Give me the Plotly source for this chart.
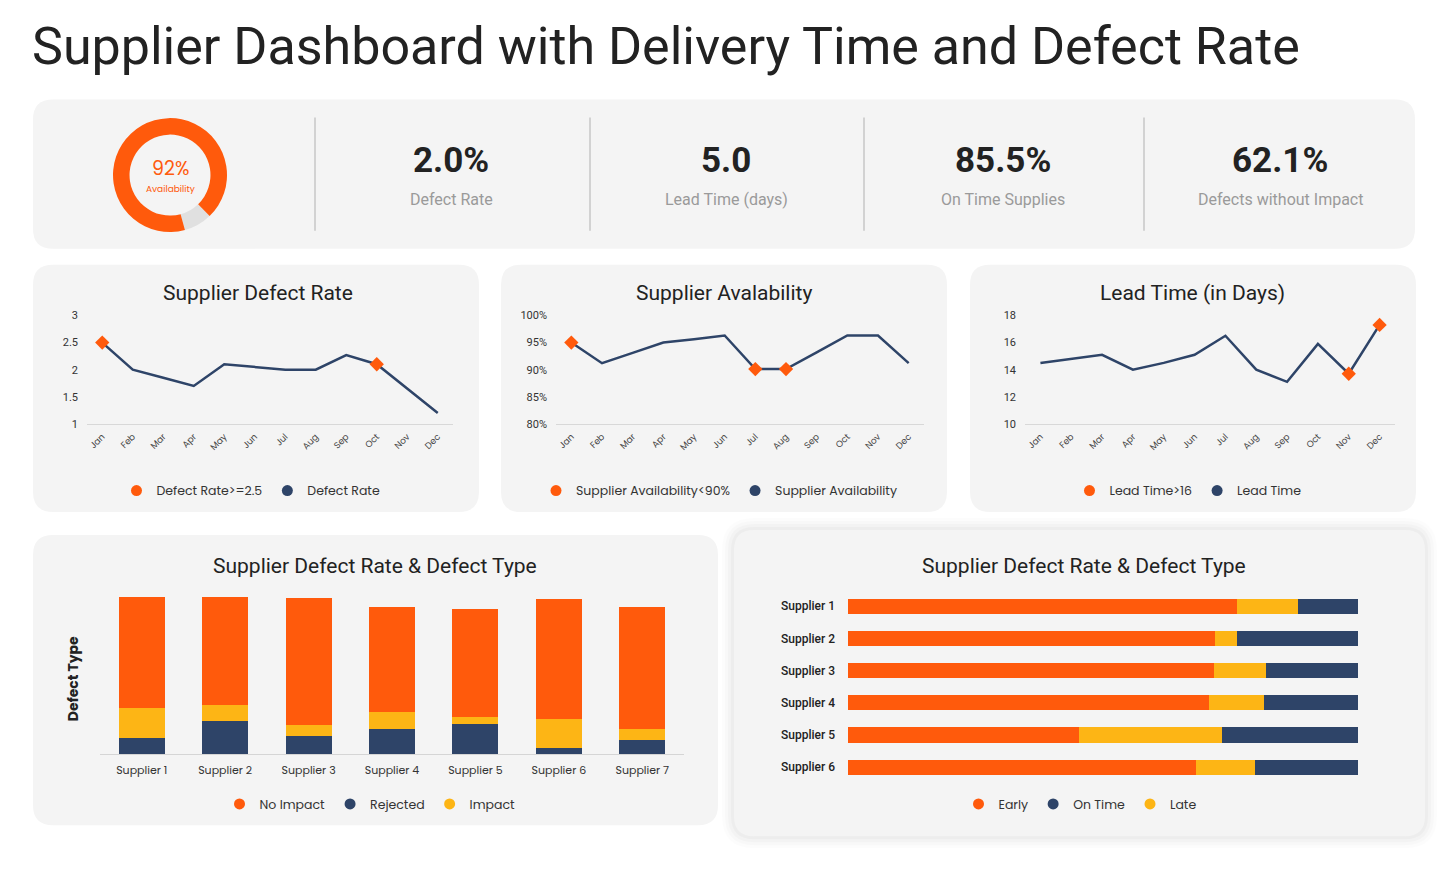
import plotly.graph_objects as go

# ---------------- data ----------------
months = ["Jan", "Feb", "Mar", "Apr", "May", "Jun", "Jul", "Aug", "Sep", "Oct", "Nov", "Dec"]

defect_rate = [2.5, 2.0, 1.85, 1.7, 2.1, 2.05, 2.0, 2.0, 2.27, 2.1, 1.65, 1.2]
defect_flag_months = ["Jan", "Oct"]
defect_ticks = [1, 1.5, 2, 2.5, 3]
defect_tick_text = ["1", "1.5", "2", "2.5", "3"]

availability = [95, 91.2, 93.1, 95, 95.6, 96.3, 90.1, 90.1, 93.2, 96.3, 96.3, 91.2]
avail_flag_months = ["Jan", "Jul", "Aug"]
avail_ticks = [80, 85, 90, 95, 100]
avail_tick_text = ["80%", "85%", "90%", "95%", "100%"]

lead_time = [14.5, 14.8, 15.1, 14.0, 14.5, 15.1, 16.5, 14.0, 13.1, 15.9, 13.7, 17.3]
lead_flag_months = ["Nov", "Dec"]
lead_ticks = [10, 12, 14, 16, 18]
lead_tick_text = ["10", "12", "14", "16", "18"]

suppliers7 = ["Supplier 1", "Supplier 2", "Supplier 3", "Supplier 4", "Supplier 5", "Supplier 6", "Supplier 7"]
rejected = [10, 20.4, 11, 15, 18.4, 3.6, 8.4]
impact = [18, 9.6, 6.4, 10.6, 4.2, 18, 6.6]
no_impact = [67, 65, 77.2, 63.4, 65, 72.4, 74]

suppliers6 = ["Supplier 1", "Supplier 2", "Supplier 3", "Supplier 4", "Supplier 5", "Supplier 6"]
early = [76.3, 71.9, 71.7, 70.8, 45.2, 68.2]
late = [12.0, 4.4, 10.3, 10.7, 28.1, 11.6]
on_time = [11.7, 23.7, 18.0, 18.5, 26.7, 20.2]

availability_kpi = 92
kpi_values = ["2.0%", "5.0", "85.5%", "62.1%"]
kpi_labels = ["Defect Rate", "Lead Time (days)", "On Time Supplies", "Defects without Impact"]

# ---------------- style ----------------
W, H = 1451, 874
Y_OFF, Y_SCALE = 6.6, 0.984   # vertical calibration of the capture
ORANGE = "#FF5A0C"
NAVY = "#2E4468"
YELLOW = "#FDB515"
GREYRING = "#E0E0E0"
PANEL = "#F4F4F4"
DARK = "#222222"
ROBOTO = "Roboto, Arial, sans-serif"
ROUND = "Poppins, 'Open Sans', Arial, sans-serif"


def px(x):
    return x / W


def py(y):
    return 1 - ((y - Y_OFF) / Y_SCALE) / H


def xdom(a, b):
    return [a / W, b / W]


def ydom(top, bottom):
    return [py(bottom), py(top)]


def rrect(x0, y0, x1, y1, r, fill):
    p = (f"M{px(x0 + r)},{py(y0)} L{px(x1 - r)},{py(y0)} Q{px(x1)},{py(y0)} {px(x1)},{py(y0 + r)} "
         f"L{px(x1)},{py(y1 - r)} Q{px(x1)},{py(y1)} {px(x1 - r)},{py(y1)} "
         f"L{px(x0 + r)},{py(y1)} Q{px(x0)},{py(y1)} {px(x0)},{py(y1 - r)} "
         f"L{px(x0)},{py(y0 + r)} Q{px(x0)},{py(y0)} {px(x0 + r)},{py(y0)} Z")
    return dict(type="path", xref="paper", yref="paper", path=p, fillcolor=fill,
                line=dict(width=0), layer="below")


def note(text, x, y, size, color, family=ROBOTO, xanchor="center", **kw):
    return dict(text=text, x=px(x), y=py(y), xref="paper", yref="paper", xanchor=xanchor,
                yanchor="middle", showarrow=False, font=dict(family=family, size=size, color=color, **kw))


fig = go.Figure()
shapes = []
annotations = []

# shadow for bottom-right panel
for grow, alpha in [(12, 0.012), (9, 0.015), (6, 0.02), (3, 0.025)]:
    shapes.append(rrect(734 - grow, 530 - grow, 1425 + grow, 836 + grow, 20 + grow, f"rgba(0,0,0,{alpha})"))

# panels
for (x0, y0, x1, y1) in [(33, 100, 1415, 249), (33, 265, 479, 512), (501, 265, 947, 512),
                         (970, 265, 1416, 512), (33, 535, 718, 825), (734, 530, 1425, 836)]:
    shapes.append(rrect(x0, y0, x1, y1, 20, PANEL))

# dividers in KPI panel
for xd in [315, 590, 864, 1144]:
    shapes.append(dict(type="line", xref="paper", yref="paper", x0=px(xd), x1=px(xd),
                       y0=py(118), y1=py(231), line=dict(color="#D2D2D2", width=2), layer="below"))

# main title
annotations.append(note("Supplier Dashboard with Delivery Time and Defect Rate", 30, 47, 52, DARK, xanchor="left"))

# donut
fig.add_trace(go.Pie(values=[100 - availability_kpi, availability_kpi], labels=["Gap", "Availability"],
                     marker=dict(colors=[GREYRING, ORANGE]), hole=0.71, sort=False,
                     direction="clockwise", rotation=136, textinfo="none", showlegend=False,
                     hoverinfo="skip", domain=dict(x=xdom(113, 227), y=ydom(118.5, 232.5))))
annotations.append(note(f"{availability_kpi}%", 170, 169, 19, ORANGE, family=ROUND))
annotations.append(note("Availability", 170, 189, 9, ORANGE, family=ROUND))

# KPI texts
for xc, v, lab in zip([451, 726, 1003, 1280], kpi_values, kpi_labels):
    annotations.append(note(v, xc, 161, 35, DARK, weight="bold"))
    annotations.append(note(lab, xc, 200, 16, "#9A9A9A"))

# ---------------- line charts ----------------
line_specs = [
    dict(n="", values=defect_rate, flags=defect_flag_months, title="Supplier Defect Rate",
         hl="Defect Rate>=2.5", name="Defect Rate", xd=(87, 453), rng=[1, 3],
         tickvals=defect_ticks, ticktext=defect_tick_text, legend="legend", cx=251),
    dict(n="2", values=availability, flags=avail_flag_months, title="Supplier Avalability",
         hl="Supplier Availability<90%", name="Supplier Availability", xd=(556, 924), rng=[80, 100],
         tickvals=avail_ticks, ticktext=avail_tick_text, legend="legend2", cx=719),
    dict(n="3", values=lead_time, flags=lead_flag_months, title="Lead Time (in Days)",
         hl="Lead Time>16", name="Lead Time", xd=(1025, 1395), rng=[10, 18],
         tickvals=lead_ticks, ticktext=lead_tick_text, legend="legend3", cx=1188),
]
title_x = {"": 258, "2": 724, "3": 1192}

layout_axes = {}
legends = {}
for s in line_specs:
    xa, ya = "x" + s["n"], "y" + s["n"]
    fig.add_trace(go.Scatter(x=months, y=s["values"], mode="lines", line=dict(color=NAVY, width=2.5),
                             xaxis=xa, yaxis=ya, showlegend=False, hoverinfo="skip", cliponaxis=False))
    fx = [m for m in months if m in s["flags"]]
    fy = [s["values"][months.index(m)] for m in fx]
    fig.add_trace(go.Scatter(x=fx, y=fy, mode="markers", marker=dict(symbol="diamond", size=11, color=ORANGE),
                             xaxis=xa, yaxis=ya, showlegend=False, hoverinfo="skip", cliponaxis=False))
    for nm, col in [(s["hl"], ORANGE), (s["name"], NAVY)]:
        fig.add_trace(go.Scatter(x=[None], y=[None], mode="markers", name=nm,
                                 marker=dict(symbol="circle", size=11, color=col),
                                 xaxis=xa, yaxis=ya, legend=s["legend"]))
    layout_axes["xaxis" + s["n"]] = dict(domain=xdom(*s["xd"]), anchor=ya, type="category",
                                         range=[-0.5, 11.5], tickangle=-45, showgrid=False, zeroline=False,
                                         showline=True, linecolor="#D8D8D8", linewidth=1,
                                         tickfont=dict(family=ROUND, size=9, color="#444"),
                                         ticklabelstandoff=3, fixedrange=True)
    layout_axes["yaxis" + s["n"]] = dict(domain=ydom(315.7, 424), anchor=xa, range=s["rng"],
                                         tickmode="array", tickvals=s["tickvals"], ticktext=s["ticktext"],
                                         showgrid=False, zeroline=False, showline=False,
                                         tickfont=dict(family=ROBOTO, size=11, color="#333"),
                                         ticklabelstandoff=8, fixedrange=True)
    legends[s["legend"]] = dict(x=px(s["cx"]), y=py(491), xanchor="center", yanchor="middle",
                                orientation="h", bgcolor="rgba(0,0,0,0)", itemwidth=30, traceorder="normal",
                                font=dict(family=ROUND, size=12.5, color="#333"))
    annotations.append(note(s["title"], title_x[s["n"]], 293, 21, DARK))

# ---------------- stacked column chart ----------------
for nm, vals, col in [("Rejected", rejected, NAVY), ("Impact", impact, YELLOW), ("No Impact", no_impact, ORANGE)]:
    fig.add_trace(go.Bar(x=suppliers7, y=vals, name=nm, marker=dict(color=col, line=dict(width=0)),
                         width=0.55, xaxis="x4", yaxis="y4", showlegend=False, hoverinfo="skip"))
for nm, col in [("No Impact", ORANGE), ("Rejected", NAVY), ("Impact", YELLOW)]:
    fig.add_trace(go.Scatter(x=[None], y=[None], mode="markers", name=nm,
                             marker=dict(symbol="circle", size=11, color=col),
                             xaxis="x4", yaxis="y4", legend="legend4"))
per_unit = (754 - 597) / 95.0
layout_axes["xaxis4"] = dict(domain=xdom(100, 684), anchor="y4", type="category", showgrid=False,
                             zeroline=False, showline=True, linecolor="#D5D5D5", linewidth=1,
                             tickfont=dict(family=ROUND, size=11, color="#333"), ticklabelstandoff=6,
                             fixedrange=True)
layout_axes["yaxis4"] = dict(domain=ydom(754 - 100 * per_unit, 754), anchor="x4", range=[0, 100],
                             showgrid=False, zeroline=False, showline=False, showticklabels=False,
                             fixedrange=True)
legends["legend4"] = dict(x=px(370), y=py(804), xanchor="center", yanchor="middle", orientation="h",
                          bgcolor="rgba(0,0,0,0)", itemwidth=30, traceorder="normal",
                          font=dict(family=ROUND, size=12.5, color="#333"))
annotations.append(note("Supplier Defect Rate & Defect Type", 375, 566, 21, DARK))
ann = note("Defect Type", 73, 679, 14, DARK, family=ROUND, weight="bold")
ann["textangle"] = -90
annotations.append(ann)

# ---------------- stacked horizontal bar chart ----------------
for nm, vals, col in [("Early", early, ORANGE), ("Late", late, YELLOW), ("On Time", on_time, NAVY)]:
    fig.add_trace(go.Bar(y=suppliers6, x=vals, name=nm, orientation="h", marker=dict(color=col, line=dict(width=0)),
                         width=0.47, xaxis="x5", yaxis="y5", showlegend=False, hoverinfo="skip"))
for nm, col in [("Early", ORANGE), ("On Time", NAVY), ("Late", YELLOW)]:
    fig.add_trace(go.Scatter(x=[None], y=[None], mode="markers", name=nm,
                             marker=dict(symbol="circle", size=11, color=col),
                             xaxis="x5", yaxis="y5", legend="legend5"))
layout_axes["xaxis5"] = dict(domain=xdom(848, 1358), anchor="y5", range=[0, 100], showgrid=False,
                             zeroline=False, showline=False, showticklabels=False, fixedrange=True)
layout_axes["yaxis5"] = dict(domain=ydom(590, 783), anchor="x5", type="category", autorange="reversed",
                             showgrid=False, zeroline=False, showline=False,
                             tickfont=dict(family=ROBOTO, size=12, color=DARK, weight=500),
                             ticklabelstandoff=12, fixedrange=True)
legends["legend5"] = dict(x=px(1080), y=py(804), xanchor="center", yanchor="middle", orientation="h",
                          bgcolor="rgba(0,0,0,0)", itemwidth=30, traceorder="normal",
                          font=dict(family=ROUND, size=12.5, color="#333"))
annotations.append(note("Supplier Defect Rate & Defect Type", 1084, 566, 21, DARK))

fig.update_layout(width=W, height=H, margin=dict(l=0, r=0, t=0, b=0), autosize=False,
                  paper_bgcolor="white", plot_bgcolor="rgba(0,0,0,0)", barmode="stack",
                  shapes=shapes, annotations=annotations, showlegend=True, **layout_axes, **legends)

post = ("var d=document.getElementById('{plot_id}');d.style.position='fixed';d.style.top='0px';"
        "d.style.left='0px';document.body.style.margin='0';document.documentElement.style.overflow='hidden';"
        "document.body.style.overflow='hidden';")
fig.write_html("out.html", config=dict(displayModeBar=False), post_script=post)
